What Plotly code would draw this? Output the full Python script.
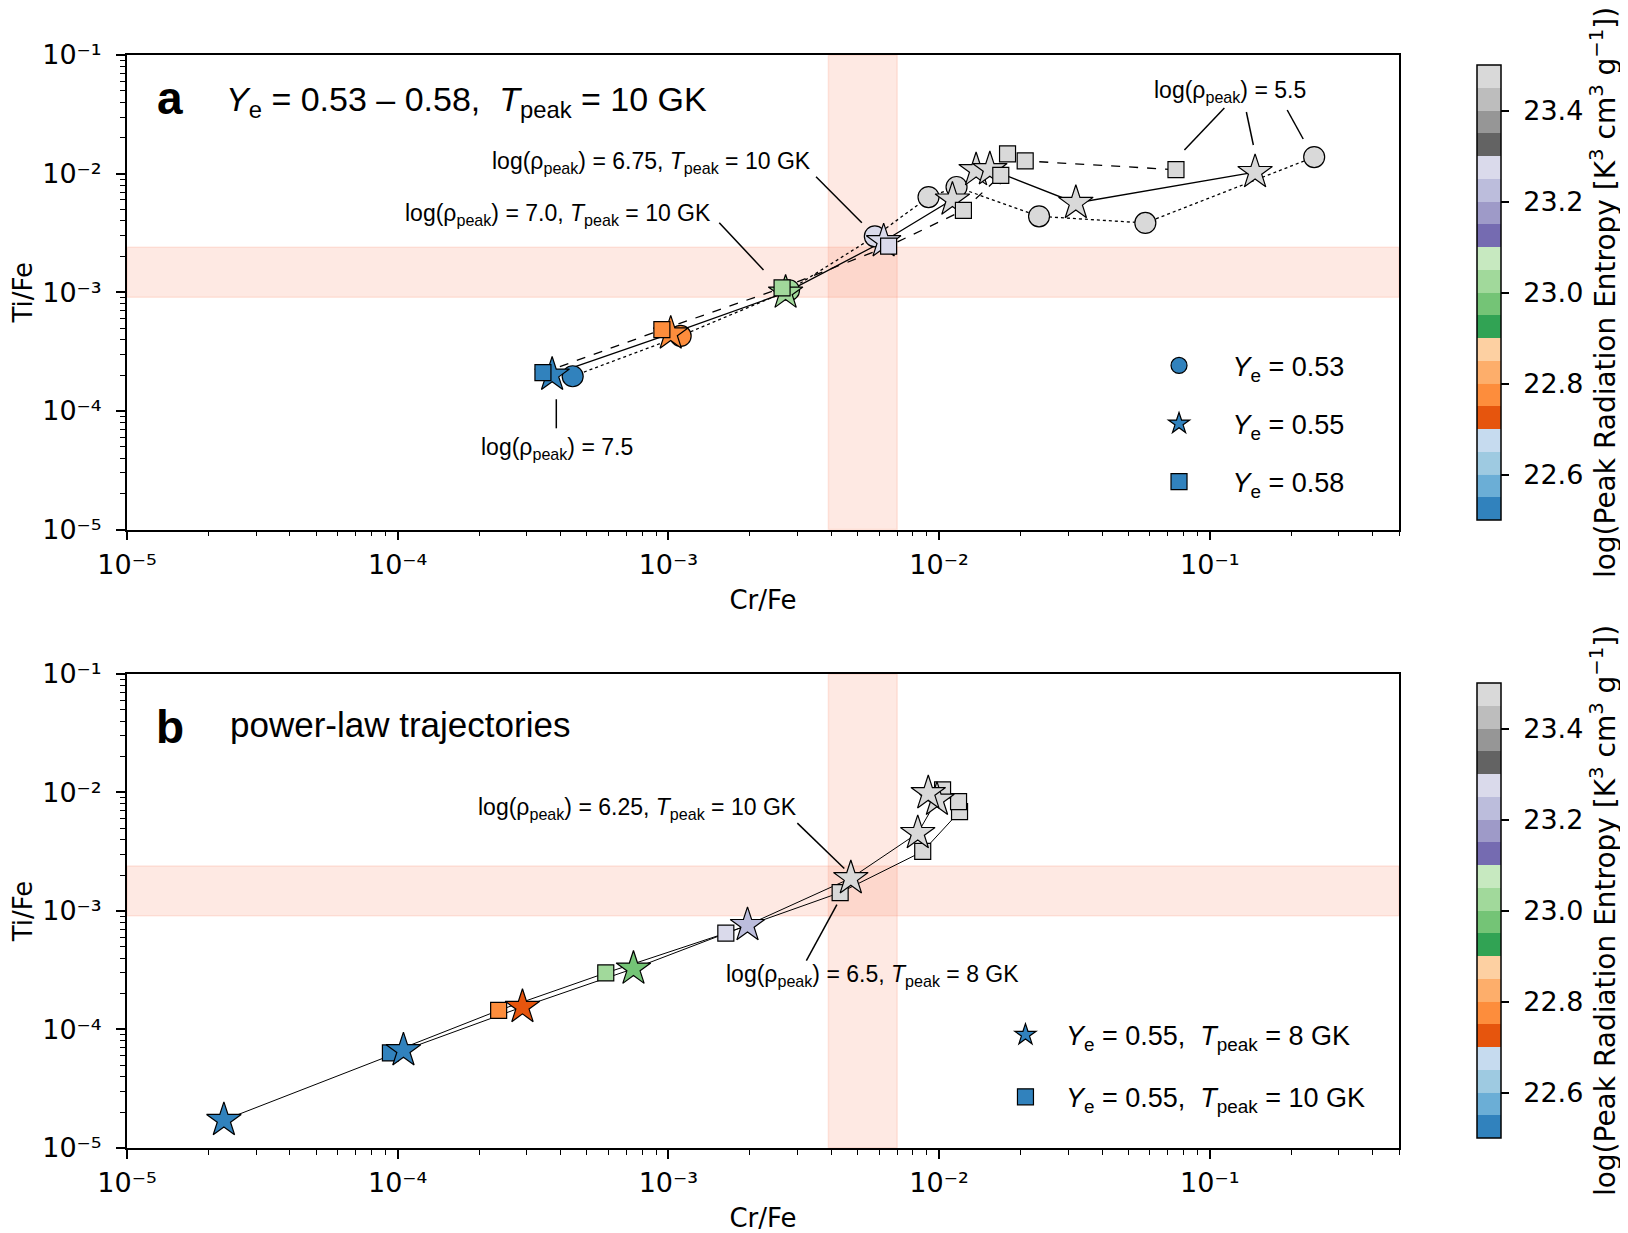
import plotly.graph_objects as go
import numpy as np

# ---- data ----
# panel a: Cr/Fe and Ti/Fe, ordered log(rho_peak) = 7.5 ... 5.5
a_circ_cr = [4.43e-4, 1.11e-3, 2.79e-3, 5.79e-3, 9.14e-3, 1.16e-2, 2.34e-2, 5.78e-2, 0.243]
a_circ_ti = [1.96e-4, 4.29e-4, 1.04e-3, 2.96e-3, 6.35e-3, 7.72e-3, 4.37e-3, 3.84e-3, 1.38e-2]
a_star_cr = [3.72e-4, 1.02e-3, 2.71e-3, 6.24e-3, 1.12e-2, 1.37e-2, 1.54e-2, 3.2e-2, 0.147]
a_star_ti = [2.02e-4, 4.49e-4, 9.93e-4, 2.69e-3, 6.04e-3, 1.07e-2, 1.09e-2, 5.66e-3, 1.03e-2]
a_sq_cr = [3.44e-4, 9.46e-4, 2.63e-3, 6.51e-3, 1.23e-2, 1.69e-2, 1.79e-2, 2.08e-2, 7.5e-2]
a_sq_ti = [2.1e-4, 4.84e-4, 1.09e-3, 2.45e-3, 4.91e-3, 9.68e-3, 1.47e-2, 1.28e-2, 1.08e-2]
a_entropy = [22.5, 22.75, 23.0, 23.25, 23.5, 23.75, 24.0, 24.25, 24.5]

# panel b: power-law trajectories
b_star_cr = [2.28e-5, 1.05e-4, 2.89e-4, 7.43e-4, 1.96e-3, 4.72e-3, 8.34e-3, 9.82e-3, 9.12e-3]
b_star_ti = [1.72e-5, 6.67e-5, 1.55e-4, 3.26e-4, 7.6e-4, 1.89e-3, 4.54e-3, 8.67e-3, 9.86e-3]
b_star_entropy = [22.21, 22.46, 22.71, 22.96, 23.21, 23.46, 23.71, 23.96, 24.21]
b_sq_cr = [9.4e-5, 2.36e-4, 5.87e-4, 1.63e-3, 4.31e-3, 8.7e-3, 1.19e-2, 1.18e-2, 1.03e-2]
b_sq_ti = [6.34e-5, 1.45e-4, 3.0e-4, 6.5e-4, 1.43e-3, 3.18e-3, 6.9e-3, 8.38e-3, 1.05e-2]
b_sq_entropy = [22.5, 22.75, 23.0, 23.25, 23.5, 23.75, 24.0, 24.25, 24.5]

# observed ranges (shaded bands)
cr_band = [3.9e-3, 7.0e-3]
ti_band = [9.1e-4, 2.4e-3]

decades = [1e-5, 1e-4, 1e-3, 1e-2, 1e-1]
decade_labels = ["10⁻⁵", "10⁻⁴", "10⁻³", "10⁻²", "10⁻¹"]
cbar_ticks = [22.6, 22.8, 23.0, 23.2, 23.4]

tab20c = ["#3182bd", "#6baed6", "#9ecae1", "#c6dbef",
          "#e6550d", "#fd8d3c", "#fdae6b", "#fdd0a2",
          "#31a354", "#74c476", "#a1d99b", "#c7e9c0",
          "#756bb1", "#9e9ac8", "#bcbddc", "#dadaeb",
          "#636363", "#969696", "#bdbdbd", "#d9d9d9"]
cscale = []
for i, c in enumerate(tab20c):
    cscale.append([i / 20, c])
    cscale.append([1.0 if i == 19 else (i + 1) / 20 - 1e-6, c])

HELV = "Liberation Sans, Arial, sans-serif"
DEJA = "DejaVu Sans, sans-serif"
OUTLINE = dict(color="black", width=1.2)

fig = go.Figure()


def add_line(x, y, dash, xa, ya, width=1.3):
    fig.add_trace(go.Scatter(x=x, y=y, mode="lines", xaxis=xa, yaxis=ya,
                             line=dict(color="black", width=width, dash=dash),
                             showlegend=False, hoverinfo="skip"))


def add_pts(x, y, ent, symbol, size, xa, ya, cax):
    fig.add_trace(go.Scatter(x=x, y=y, mode="markers", xaxis=xa, yaxis=ya, showlegend=False,
                             marker=dict(symbol=symbol, size=size, color=ent, coloraxis=cax,
                                         line=OUTLINE)))


def add_key(symbol, size, name, xa, ya, legend, rank):
    # legend entry only
    fig.add_trace(go.Scatter(x=[None], y=[None], mode="markers", xaxis=xa, yaxis=ya, name=name,
                             legend=legend, legendgroup=name, legendrank=rank,
                             marker=dict(symbol=symbol, size=size, color=tab20c[0], line=OUTLINE)))


# panel a
add_line(a_circ_cr, a_circ_ti, "dot", "x", "y")
add_line(a_star_cr, a_star_ti, "solid", "x", "y")
add_line(a_sq_cr, a_sq_ti, "dash", "x", "y")
add_pts(a_circ_cr, a_circ_ti, a_entropy, "circle", 21, "x", "y", "coloraxis")
add_pts(a_star_cr, a_star_ti, a_entropy, "star", 26, "x", "y", "coloraxis")
add_pts(a_sq_cr, a_sq_ti, a_entropy, "square", 16, "x", "y", "coloraxis")
add_key("circle", 21, "<i>Y</i><sub>e</sub> = 0.53", "x", "y", "legend", 1)
add_key("star", 26, "<i>Y</i><sub>e</sub> = 0.55", "x", "y", "legend", 2)
add_key("square", 16, "<i>Y</i><sub>e</sub> = 0.58", "x", "y", "legend", 3)

# panel b
add_line(b_sq_cr, b_sq_ti, "solid", "x2", "y2", 1.0)
add_line(b_star_cr, b_star_ti, "solid", "x2", "y2", 1.0)
add_pts(b_sq_cr, b_sq_ti, b_sq_entropy, "square", 16, "x2", "y2", "coloraxis2")
add_pts(b_star_cr, b_star_ti, b_star_entropy, "star", 26, "x2", "y2", "coloraxis2")
add_key("star", 26, "<i>Y</i><sub>e</sub> = 0.55,  <i>T</i><sub>peak</sub> = 8 GK", "x2", "y2", "legend2", 1)
add_key("square", 16, "<i>Y</i><sub>e</sub> = 0.55,  <i>T</i><sub>peak</sub> = 10 GK", "x2", "y2", "legend2", 2)

# shaded bands
band = "rgba(252,146,114,0.2)"
for xr, yr in [("x", "y"), ("x2", "y2")]:
    fig.add_shape(type="rect", xref=xr, yref=yr + " domain", x0=cr_band[0], x1=cr_band[1], y0=0, y1=1,
                  fillcolor=band, line=dict(color=band, width=1.5), layer="below")
    fig.add_shape(type="rect", xref=xr + " domain", yref=yr, x0=0, x1=1, y0=ti_band[0], y1=ti_band[1],
                  fillcolor=band, line=dict(color=band, width=1.5), layer="below")

# leader lines (axis-domain fractions)
leaders = [
    ("x", "y", 0.5417, 0.7436, 0.5777, 0.6467),
    ("x", "y", 0.4656, 0.6467, 0.5004, 0.5470),
    ("x", "y", 0.3375, 0.2746, 0.3375, 0.2134),
    ("x", "y", 0.8627, 0.8883, 0.8313, 0.8000),
    ("x", "y", 0.8800, 0.8799, 0.8855, 0.8104),
    ("x", "y", 0.9121, 0.8841, 0.9247, 0.8230),
    ("x2", "y2", 0.5270, 0.6853, 0.5639, 0.5895),
    ("x2", "y2", 0.5341, 0.3951, 0.5581, 0.5132),
]
for xr, yr, x0, y0, x1, y1 in leaders:
    fig.add_shape(type="line", xref=xr + " domain", yref=yr + " domain", x0=x0, y0=y0, x1=x1, y1=y1,
                  line=dict(color="black", width=1.5))

rho = "log(ρ<sub>peak</sub>)"
texts = [
    ("x", "y", 0.0335, 0.909, "center", "<b>a</b>", 46),
    ("x", "y", 0.076, 0.901, "left", "<i>Y</i><sub>e</sub> = 0.53 – 0.58,  <i>T</i><sub>peak</sub> = 10 GK", 34),
    ("x", "y", 0.5396, 0.7725, "right", rho + " = 6.75, <i>T</i><sub>peak</sub> = 10 GK", 23),
    ("x", "y", 0.4609, 0.663, "right", rho + " = 7.0, <i>T</i><sub>peak</sub> = 10 GK", 23),
    ("x", "y", 0.338, 0.1707, "center", rho + " = 7.5", 23),
    ("x", "y", 0.867, 0.9233, "center", rho + " = 5.5", 23),
    ("x2", "y2", 0.0335, 0.888, "center", "<b>b</b>", 46),
    ("x2", "y2", 0.0795, 0.894, "left", "power-law trajectories", 35),
    ("x2", "y2", 0.5285, 0.7155, "right", rho + " = 6.25, <i>T</i><sub>peak</sub> = 10 GK", 23),
    ("x2", "y2", 0.4695, 0.3635, "left", rho + " = 6.5, <i>T</i><sub>peak</sub> = 8 GK", 23),
]
for xr, yr, x, y, anc, t, fs in texts:
    fig.add_annotation(xref=xr + " domain", yref=yr + " domain", x=x, y=y, xanchor=anc, yanchor="middle",
                       text=t, showarrow=False, font=dict(family=HELV, size=fs, color="black"))

axis_common = dict(type="log", showline=True, linecolor="black", linewidth=1.8, mirror=True,
                   ticks="outside", ticklen=9, tickwidth=1.5, tickcolor="black",
                   tickmode="array", tickvals=decades, ticktext=decade_labels,
                   showgrid=False, zeroline=False,
                   tickfont=dict(family=DEJA, size=27, color="black"),
                   minor=dict(ticks="outside", ticklen=5, tickwidth=1.2, tickcolor="black",
                              dtick="D1", showgrid=False))
title_font = dict(family=DEJA, size=26, color="black")

xr = [-5, np.log10(0.5)]
yr = [-5, -1]
fig.update_layout(
    xaxis=dict(axis_common, range=xr, domain=[0, 1], anchor="y", ticklabelstandoff=1,
               title=dict(text="Cr/Fe", font=title_font, standoff=12)),
    yaxis=dict(axis_common, range=yr, domain=[0.5658, 1], anchor="x", ticklabelstandoff=9,
               title=dict(text="Ti/Fe", font=title_font, standoff=12)),
    xaxis2=dict(axis_common, range=xr, domain=[0, 1], anchor="y2", ticklabelstandoff=1,
                title=dict(text="Cr/Fe", font=title_font, standoff=18)),
    yaxis2=dict(axis_common, range=yr, domain=[0, 0.4337], anchor="x2", ticklabelstandoff=9,
                title=dict(text="Ti/Fe", font=title_font, standoff=12)),
)

cbar = dict(x=1.0613, xanchor="left", xpad=0, thickness=24, lenmode="fraction", len=0.4342,
            outlinecolor="black", outlinewidth=1.5,
            tickvals=cbar_ticks, ticktext=["\u00a0%.1f" % v for v in cbar_ticks],
            ticks="outside", ticklen=8, tickwidth=1.5, tickcolor="black",
            tickfont=dict(family=DEJA, size=27, color="black"),
            title=dict(text="log(Peak Radiation Entropy [K<sup>3</sup> cm<sup>3</sup> g<sup>−1</sup>])",
                       side="right", font=dict(family=DEJA, size=28, color="black")))

# the page adds an 8 px body margin, so the figure is 8 px smaller than the window
fig.update_layout(
    width=1620, height=1225,
    margin=dict(l=119, r=229, t=47, b=85, autoexpand=False),
    plot_bgcolor="white", paper_bgcolor="white",
    coloraxis=dict(colorscale=cscale, cmin=22.5, cmax=23.5,
                   colorbar=dict(cbar, y=1, yanchor="top")),
    coloraxis2=dict(colorscale=cscale, cmin=22.5, cmax=23.5,
                    colorbar=dict(cbar, y=0, yanchor="bottom")),
    legend=dict(x=0.785, y=0.738, xanchor="left", yanchor="top", itemwidth=97,
                tracegroupgap=20, bgcolor="rgba(0,0,0,0)",
                font=dict(family=HELV, size=27, color="black")),
    legend2=dict(x=0.6745, y=0.1256, xanchor="left", yanchor="top", itemwidth=71,
                 tracegroupgap=24, bgcolor="rgba(0,0,0,0)",
                 font=dict(family=HELV, size=27, color="black")),
)

fig.write_html("out.html")
